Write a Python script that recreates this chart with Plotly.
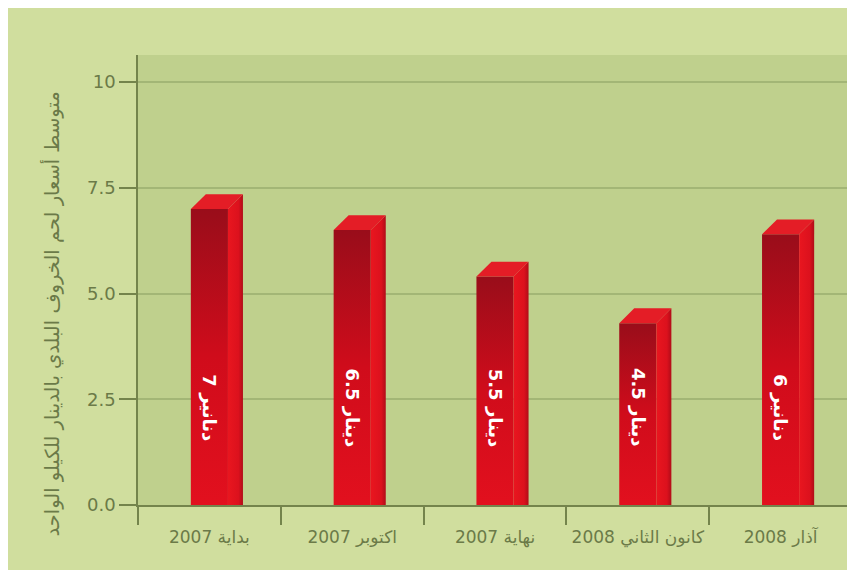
import plotly.graph_objects as go

# ---- data ----
categories = ["2007 بداية", "2007 اكتوبر", "2007 نهاية", "2008 كانون الثاني", "2008 آذار"]
values = [7.0, 6.5, 5.4, 4.3, 6.4]
bar_labels = ["7 دنانير", "6.5 دينار", "5.5 دينار", "4.5 دينار", "6 دنانير"]
y_tickvals = [0, 2.5, 5, 7.5, 10]
y_ticktext = ["0.0", "2.5", "5.0", "7.5", "10"]
y_title = "متوسط أسعار لحم الخروف البلدي بالدينار للكيلو الواحد"

# ---- style ----
PAPER = "#d0de9e"
PLOT = "#bfd08d"
GRID = "#a3b676"
AXIS = "#74844c"
TEXT = "#6b7a48"
HALF = 0.13   # half width of front face (category units)
DX = 0.105    # 3D depth along x
DY = 0.35     # 3D depth along y
LABEL_Y = 2.3
FONT = "DejaVu Sans"

fig = go.Figure()
for i, v in enumerate(values):
    x0, x1 = i - HALF, i + HALF
    # front face
    fig.add_trace(go.Scatter(
        x=[x0, x1, x1, x0, x0], y=[0, 0, v, v, 0],
        mode="lines", line=dict(width=0), fill="toself",
        fillgradient=dict(type="vertical",
                          colorscale=[[0, "#e2101e"], [0.5, "#d00c1b"], [1, "#990d1a"]]),
        hoverinfo="skip", showlegend=False))
    # side face
    fig.add_trace(go.Scatter(
        x=[x1, x1 + DX, x1 + DX, x1, x1], y=[0, 0, v + DY, v, 0],
        mode="lines", line=dict(width=0), fill="toself",
        fillgradient=dict(type="horizontal",
                          colorscale=[[0, "#e9161f"], [0.7, "#dc111d"], [1, "#b00c18"]]),
        hoverinfo="skip", showlegend=False))
    # top face
    fig.add_trace(go.Scatter(
        x=[x0, x1, x1 + DX, x0 + DX, x0], y=[v, v, v + DY, v + DY, v],
        mode="lines", line=dict(width=0), fill="toself", fillcolor="#e41d26",
        hoverinfo="skip", showlegend=False))
    fig.add_annotation(x=i, y=LABEL_Y, xref="x", yref="y", text="<b>" + bar_labels[i] + "</b>",
                       textangle=90, showarrow=False,
                       font=dict(family=FONT, size=18, color="white"))

# y axis title as a rotated annotation (placed lower, like the reference)
fig.add_annotation(x=-0.12, y=0.424, xref="paper", yref="paper", text=y_title,
                   textangle=-90, showarrow=False, xanchor="center", yanchor="middle",
                   font=dict(family=FONT, size=19.5, color=TEXT))

fig.update_layout(
    width=847, height=562,
    margin=dict(l=130, r=3, t=47, b=65),
    paper_bgcolor=PAPER, plot_bgcolor=PLOT,
    font=dict(family=FONT, color=TEXT),
    xaxis=dict(
        range=[-0.5, 4.5], tickmode="array", tickvals=list(range(len(categories))),
        ticktext=categories, ticks="outside", ticklen=16, tickcolor="rgba(0,0,0,0)",
        tickfont=dict(family=FONT, size=17, color=TEXT),
        showgrid=False, zeroline=False, showline=True, linecolor=AXIS, linewidth=1.5,
        minor=dict(ticks="outside", ticklen=18, tickwidth=1.5, tickcolor=AXIS,
                   tickmode="array", tickvals=[k - 0.5 for k in range(len(categories) + 1)],
                   showgrid=False),
        fixedrange=True),
    yaxis=dict(
        range=[0, 10.64], tickmode="array", tickvals=y_tickvals, ticktext=y_ticktext,
        ticks="outside", ticklen=17, tickwidth=1.5, tickcolor=AXIS,
        tickfont=dict(family=FONT, size=18, color=TEXT),
        showgrid=True, gridcolor=GRID, gridwidth=1.5, zeroline=False,
        showline=True, linecolor=AXIS, linewidth=1.5,
        fixedrange=True),
)

fig.write_html("out.html")
